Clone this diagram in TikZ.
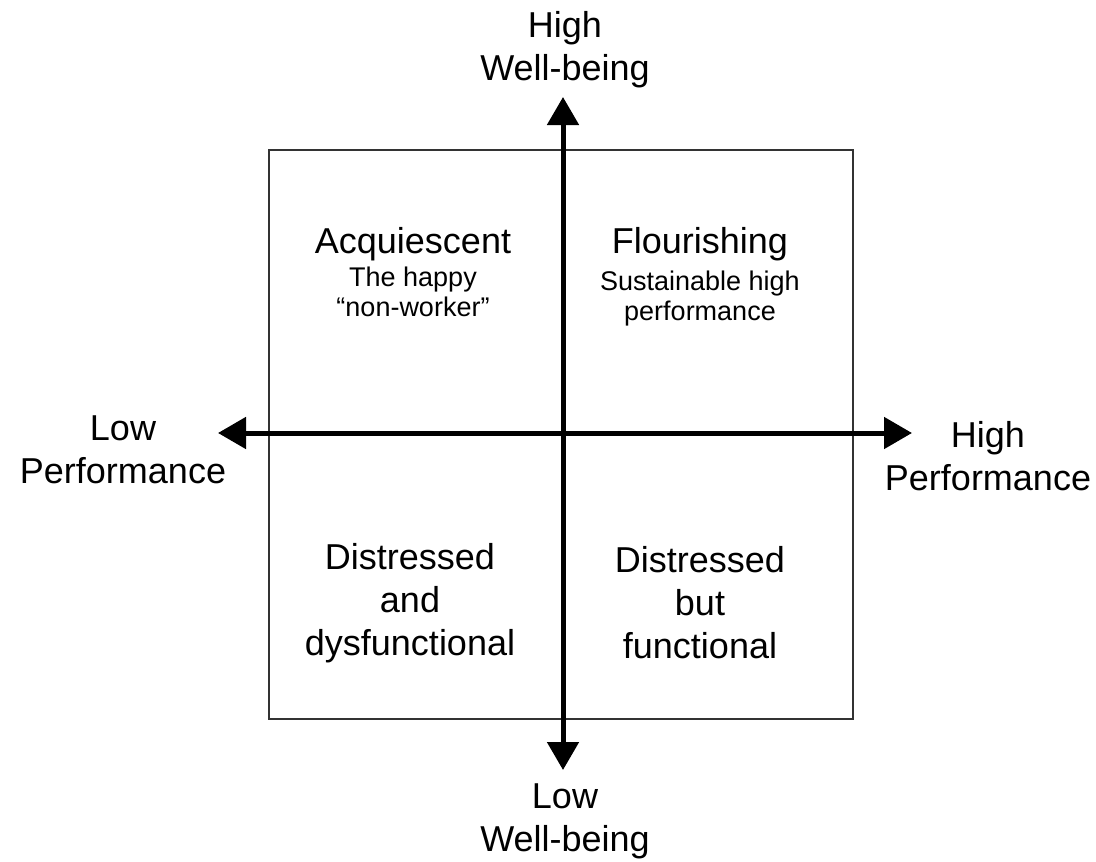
\documentclass[tikz,border=0pt]{standalone}
\usepackage{fontspec}
\setmainfont{Liberation Sans}
\usetikzlibrary{arrows.meta}
\tikzset{
  big/.style={font=\fontsize{36}{43}\selectfont, align=center, inner sep=0pt},
  small/.style={font=\fontsize{27}{30}\selectfont, align=center, inner sep=0pt},
  axis/.style={line width=5pt, -{Triangle[length=28pt,width=31pt]}},
  frame/.style={draw=black!80, line width=1.6pt}
}
\begin{document}
\begin{tikzpicture}[x=1pt,y=-1pt]
\useasboundingbox (0,0) rectangle (1096,862);
\draw[frame] (269,150) rectangle (853,719);
\coordinate (c) at (563,433);
\coordinate (top) at (563,97);
\coordinate (bot) at (563,770);
\coordinate (lft) at (218,433);
\coordinate (rgt) at (912,433);
\draw[axis] (c) -- (top);
\draw[axis] (c) -- (bot);
\draw[axis] (c) -- (lft);
\draw[axis] (c) -- (rgt);
\node[big] (hw) at (565,50) {High\\Well-being};
\node[big] (lw) at (565,821) {Low\\Well-being};
\node[big] (lp) at (123,450) {Low\\Performance};
\node[big] (hp) at (988,456) {High\\Performance};
\node[big] (acq) at (413,244) {Acquiescent};
\node[small] (acq2) at (413,292) {The happy\\``non-worker''};
\node[big] (flo) at (700,244) {Flourishing};
\node[small] (flo2) at (700,299) {Sustainable high\\performance};
\node[big] (dd) at (410,603) {Distressed\\and\\dysfunctional};
\node[big] (df) at (700,603) {Distressed\\but\\functional};
\end{tikzpicture}
\end{document}
